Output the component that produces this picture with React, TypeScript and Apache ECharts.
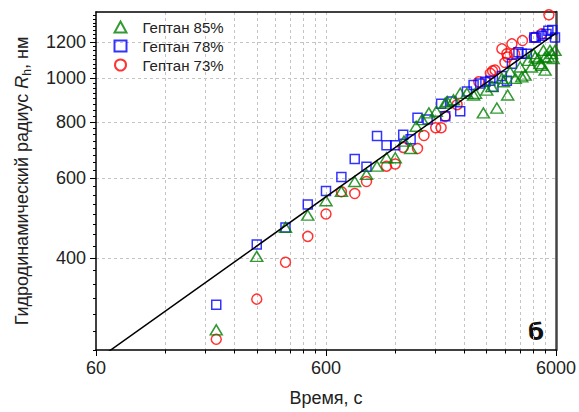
import React, { useEffect, useRef } from "react";
import * as echarts from "echarts";

// Axis ranges (log scales) and tick positions
const timeRange = [60, 6000];
const radiusRange = [250, 1400];
const timeTicks = [60, 600, 6000];
const timeMinorTicks = [120, 180, 240, 300, 360, 420, 480, 540, 1200, 1800, 2400, 3000, 3600, 4200, 4800, 5400];
const radiusTicks = [400, 600, 800, 1000, 1200];
const radiusMinorTicks = [
  250, 275, 300, 325, 350, 375, 425, 450, 475, 500, 525, 550, 575, 625, 650, 675, 700, 725, 750, 775,
  825, 850, 875, 900, 925, 950, 975, 1025, 1050, 1075, 1100, 1125, 1150, 1175, 1225, 1250, 1275, 1300,
  1325, 1350, 1375,
];

// Hydrodynamic radius (nm) vs time (s)
const heptane85: [number, number][] = [
  [200, 277], [300, 403], [400, 467], [500, 497], [600, 535], [700, 561], [800, 590], [900, 612],
  [1000, 638], [1100, 666], [1200, 666], [1310, 725], [1400, 698], [1480, 782], [1570, 809], [1680, 837],
  [1810, 844], [1980, 880], [2020, 887], [2150, 895], [2300, 925], [2460, 925], [2630, 917], [2680, 925],
  [2900, 837], [3000, 940], [3160, 957], [3320, 858], [3490, 998], [3550, 981], [3700, 917], [3790, 1032],
  [3990, 998], [4190, 1058], [4260, 1006], [4400, 1015], [4550, 1094], [4690, 1058], [4790, 1132],
  [4870, 1113], [5030, 1104], [5110, 1076], [5200, 1067], [5290, 1151], [5380, 1113], [5380, 1041],
  [5560, 1113], [5650, 1151], [5740, 1132], [5830, 1104], [5940, 1151],
];
const heptane78: [number, number][] = [
  [200, 315], [300, 428], [400, 467], [500, 525], [600, 562], [700, 604], [800, 662], [900, 636],
  [1000, 744], [1100, 710], [1200, 710], [1300, 749], [1400, 732], [1500, 817], [1660, 809], [1900, 877],
  [1980, 823], [2110, 887], [2300, 844], [2460, 933], [2630, 965], [2810, 973], [2960, 981], [3110, 986],
  [3210, 957], [3490, 1010], [3670, 986], [3860, 1076], [4120, 1141], [4260, 1132], [4480, 1132],
  [4830, 1230], [4900, 1230], [5200, 1241], [5460, 1252], [5560, 1272], [5780, 1277], [5940, 1230],
];
const heptane73: [number, number][] = [
  [200, 264], [300, 324], [400, 391], [500, 446], [600, 500], [700, 560], [800, 555], [900, 590],
  [1100, 638], [1200, 645], [1300, 702], [1500, 698], [1600, 746], [1800, 776], [1900, 776], [1980, 823],
  [2230, 873], [2770, 981], [3110, 1024], [3180, 1037], [3260, 1041], [3490, 1160], [3600, 1082],
  [3670, 1132], [3700, 1113], [3860, 1190], [3960, 1132], [4290, 1210], [4830, 1230], [5200, 1252],
  [5590, 1380],
];
// Power-law fit R = A * t^0.362
const fitLine: [number, number][] = [[60, 237], [6000, 1257]];

const lg = (v: number) => Math.log10(v);
const toLog = (pts: [number, number][]) => pts.map(([t, r]) => [lg(t), lg(r)]);

const FONT = "'Liberation Sans', Arial, sans-serif";
const GRID_LINE = { show: true, lineStyle: { color: "#c4c4c4", width: 1, type: [3, 3] as any } };

export default function App() {
  const ref = useRef<HTMLDivElement>(null);

  useEffect(() => {
    if (!ref.current) return;
    const chart = echarts.init(ref.current, null, { renderer: "svg" });

    const xMin = lg(timeRange[0]);
    const xMax = lg(timeRange[1]);
    const yMin = lg(radiusRange[0]);
    const yMax = lg(radiusRange[1]);
    const fmt = (v: number) => String(Math.round(Math.pow(10, v)));

    const hollow = (color: string) => ({ color: "none", borderColor: color, borderWidth: 1.5 });

    chart.setOption({
      animation: false,
      textStyle: { fontFamily: FONT },
      grid: { left: 96, right: 21, top: 12, bottom: 59 },
      legend: {
        left: 112,
        top: 19,
        orient: "vertical",
        padding: 0,
        itemWidth: 12,
        itemHeight: 11,
        itemGap: 3,
        textStyle: { fontSize: 15, lineHeight: 15, color: "#222", fontFamily: FONT, padding: [0, 0, 0, 11] },
        data: ["Гептан 85%", "Гептан 78%", "Гептан 73%"],
      },
      xAxis: [
        {
          type: "value",
          position: "bottom",
          min: xMin,
          max: xMax,
          name: "Время, с",
          nameLocation: "middle",
          nameGap: 39,
          nameTextStyle: { fontSize: 18, color: "#222", fontFamily: FONT },
          axisLine: { onZero: false, lineStyle: { color: "#000", width: 1.5 } },
          axisTick: { customValues: timeTicks.map(lg), length: 6, lineStyle: { color: "#000", width: 1 } },
          axisLabel: {
            customValues: timeTicks.map(lg),
            formatter: fmt,
            fontSize: 18,
            color: "#222",
            margin: 9,
            fontFamily: FONT,
          },
          splitLine: { show: false },
        },
        {
          type: "value",
          position: "bottom",
          min: xMin,
          max: xMax,
          axisLine: { show: false },
          axisTick: {
            customValues: [...timeMinorTicks, ...timeTicks.slice(1, 2)].map(lg),
            length: 3.5,
            lineStyle: { color: "#000", width: 1 },
          },
          axisLabel: { show: false },
          splitLine: GRID_LINE,
        },
        {
          type: "value",
          position: "top",
          min: xMin,
          max: xMax,
          axisLine: { onZero: false, lineStyle: { color: "#000", width: 1.5 } },
          axisTick: { show: false },
          axisLabel: { show: false },
          splitLine: { show: false },
        },
      ],
      yAxis: [
        {
          type: "value",
          position: "left",
          min: yMin,
          max: yMax,
          name: "{a|Гидродинамический радиус }{i|R}{s|h}{a|, нм}",
          nameLocation: "middle",
          nameGap: 63,
          nameTextStyle: {
            rich: {
              a: { fontSize: 18, lineHeight: 22, color: "#222", fontFamily: FONT },
              i: { fontSize: 18, lineHeight: 22, color: "#222", fontStyle: "italic", fontFamily: FONT },
              s: { fontSize: 12, lineHeight: 13, color: "#222", verticalAlign: "bottom", fontFamily: FONT },
            },
          },
          axisLine: { onZero: false, lineStyle: { color: "#000", width: 1.5 } },
          axisTick: { customValues: radiusTicks.map(lg), length: 6, lineStyle: { color: "#000", width: 1 } },
          axisLabel: {
            customValues: radiusTicks.map(lg),
            formatter: fmt,
            fontSize: 18,
            color: "#222",
            margin: 10,
            fontFamily: FONT,
          },
          splitLine: GRID_LINE,
        },
        {
          type: "value",
          position: "left",
          min: yMin,
          max: yMax,
          axisLine: { show: false },
          axisTick: { customValues: radiusMinorTicks.map(lg), length: 3, lineStyle: { color: "#000", width: 1 } },
          axisLabel: { show: false },
          splitLine: { show: false },
        },
        {
          type: "value",
          position: "right",
          min: yMin,
          max: yMax,
          axisLine: { onZero: false, lineStyle: { color: "#444", width: 2.5 } },
          axisTick: { show: false },
          axisLabel: { show: false },
          splitLine: { show: false },
        },
      ],
      series: [
        {
          name: "Гептан 73%",
          type: "scatter",
          xAxisIndex: 0,
          yAxisIndex: 0,
          symbol: "circle",
          symbolSize: 10,
          itemStyle: hollow("#ff0000"),
          data: toLog(heptane73),
          z: 3,
        },
        {
          name: "Гептан 78%",
          type: "scatter",
          xAxisIndex: 0,
          yAxisIndex: 0,
          symbol: "rect",
          symbolSize: 9,
          itemStyle: hollow("#0000ff"),
          data: toLog(heptane78),
          z: 4,
        },
        {
          name: "Гептан 85%",
          type: "scatter",
          xAxisIndex: 0,
          yAxisIndex: 0,
          symbol: "triangle",
          symbolSize: [12, 10],
          itemStyle: hollow("#008000"),
          data: toLog(heptane85),
          z: 5,
        },
        {
          name: "fit",
          type: "line",
          xAxisIndex: 0,
          yAxisIndex: 0,
          symbol: "none",
          clip: true,
          lineStyle: { color: "#000", width: 1.5 },
          data: toLog(fitLine),
          z: 6,
        },
      ],
      graphic: [
        {
          type: "text",
          left: 528,
          top: 320,
          style: {
            text: "б",
            font: "bold 23px 'DejaVu Sans', 'Liberation Sans', sans-serif",
            fill: "#111",
          },
        },
      ],
    });

    return () => chart.dispose();
  }, []);

  return <div ref={ref} style={{ width: 579, height: 412, position: "absolute", left: 0, top: 0 }} />;
}
